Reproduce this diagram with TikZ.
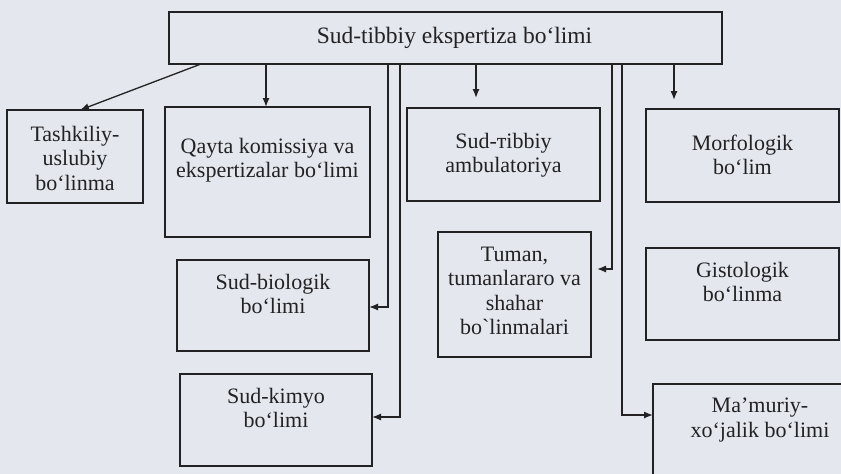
\documentclass[tikz,border=0pt]{standalone}
\usepackage{fontspec}
\setmainfont{Liberation Serif}[Ligatures=TeXOff]
\usetikzlibrary{arrows.meta}
\definecolor{paper}{RGB}{229,231,238}
\definecolor{ink}{RGB}{34,34,36}
\tikzset{
  box/.style={draw=ink, line width=1.3pt, fill=paper, inner sep=0pt, outer sep=0pt},
  lbl/.style={text=ink, align=center, font=\fontsize{22}{24.5}\selectfont, inner sep=0pt},
  arr/.style={draw=ink, line width=1.3pt, -{Latex[length=9pt,width=7pt]}},
}
\begin{document}
\begin{tikzpicture}[x=1pt,y=-1pt]
\useasboundingbox (0,0) rectangle (841,474);
\clip (0,0) rectangle (841,474);
\fill[paper] (0,0) rectangle (841,474);

% boxes
\node[box, minimum width=553pt, minimum height=52pt] (top) at (445.5,38) {};
\node[box, minimum width=136pt, minimum height=93pt] (tash) at (75,156.5) {};
\node[box, minimum width=205pt, minimum height=130pt] (qayta) at (267.5,172) {};
\node[box, minimum width=193pt, minimum height=93pt] (amb) at (503.5,154.5) {};
\node[box, minimum width=193pt, minimum height=93pt] (morf) at (742.5,155.5) {};
\node[box, minimum width=192pt, minimum height=91pt] (bio) at (273,305.5) {};
\node[box, minimum width=192pt, minimum height=92pt] (kimyo) at (276,420) {};
\node[box, minimum width=153pt, minimum height=125pt] (tuman) at (514.5,294.5) {};
\node[box, minimum width=193pt, minimum height=92pt] (gisto) at (742.5,294) {};
\node[box, minimum width=214pt, minimum height=96pt] (mamur) at (760,432) {};

% texts
\node[lbl, font=\fontsize{23.5}{26}\selectfont] (top-t) at (454.5,38) {Sud-tibbiy ekspertiza bo‘limi};
\node[lbl] (tash-t) at (75,158) {Tashkiliy-\\uslubiy\\bo‘linma};
\node[lbl] (qayta-t) at (267.5,160) {Qayta komissiya va\\ekspertizalar bo‘limi};
\node[lbl] (amb-t) at (503.5,155) {Sud-тibbiy\\ambulatoriya};
\node[lbl] (morf-t) at (742.5,155) {Morfologik\\bo‘lim};
\node[lbl] (bio-t) at (273,294) {Sud-biologik\\bo‘limi};
\node[lbl] (kimyo-t) at (276,408) {Sud-kimyo\\bo‘limi};
\node[lbl] (tuman-t) at (514.5,291) {Tuman,\\tumanlararo va\\shahar\\bo`linmalari};
\node[lbl] (gisto-t) at (742.5,282) {Gistologik\\bo‘linma};
\node[lbl] (mamur-t) at (760,420) {Ma’muriy-\\xo‘jalik bo‘limi};

% connectors
\draw[arr] (201,0 |- top.south) -- (80,0 |- tash.north);
\draw[arr] (266,0 |- top.south) -- (266,0 |- qayta.north);
\draw[arr] (388,0 |- top.south) |- (bio.east |- 0,307);
\draw[arr] (400,0 |- top.south) |- (kimyo.east |- 0,417);
\draw[arr, shorten >=10pt] (476,0 |- top.south) -- (476,0 |- amb.north);
\draw[arr, shorten >=6pt] (612,0 |- top.south) |- (tuman.east |- 0,269);
\draw[arr] (622,0 |- top.south) |- (mamur.west |- 0,415);
\draw[arr, shorten >=9pt] (674,0 |- top.south) -- (674,0 |- morf.north);
\end{tikzpicture}
\end{document}
